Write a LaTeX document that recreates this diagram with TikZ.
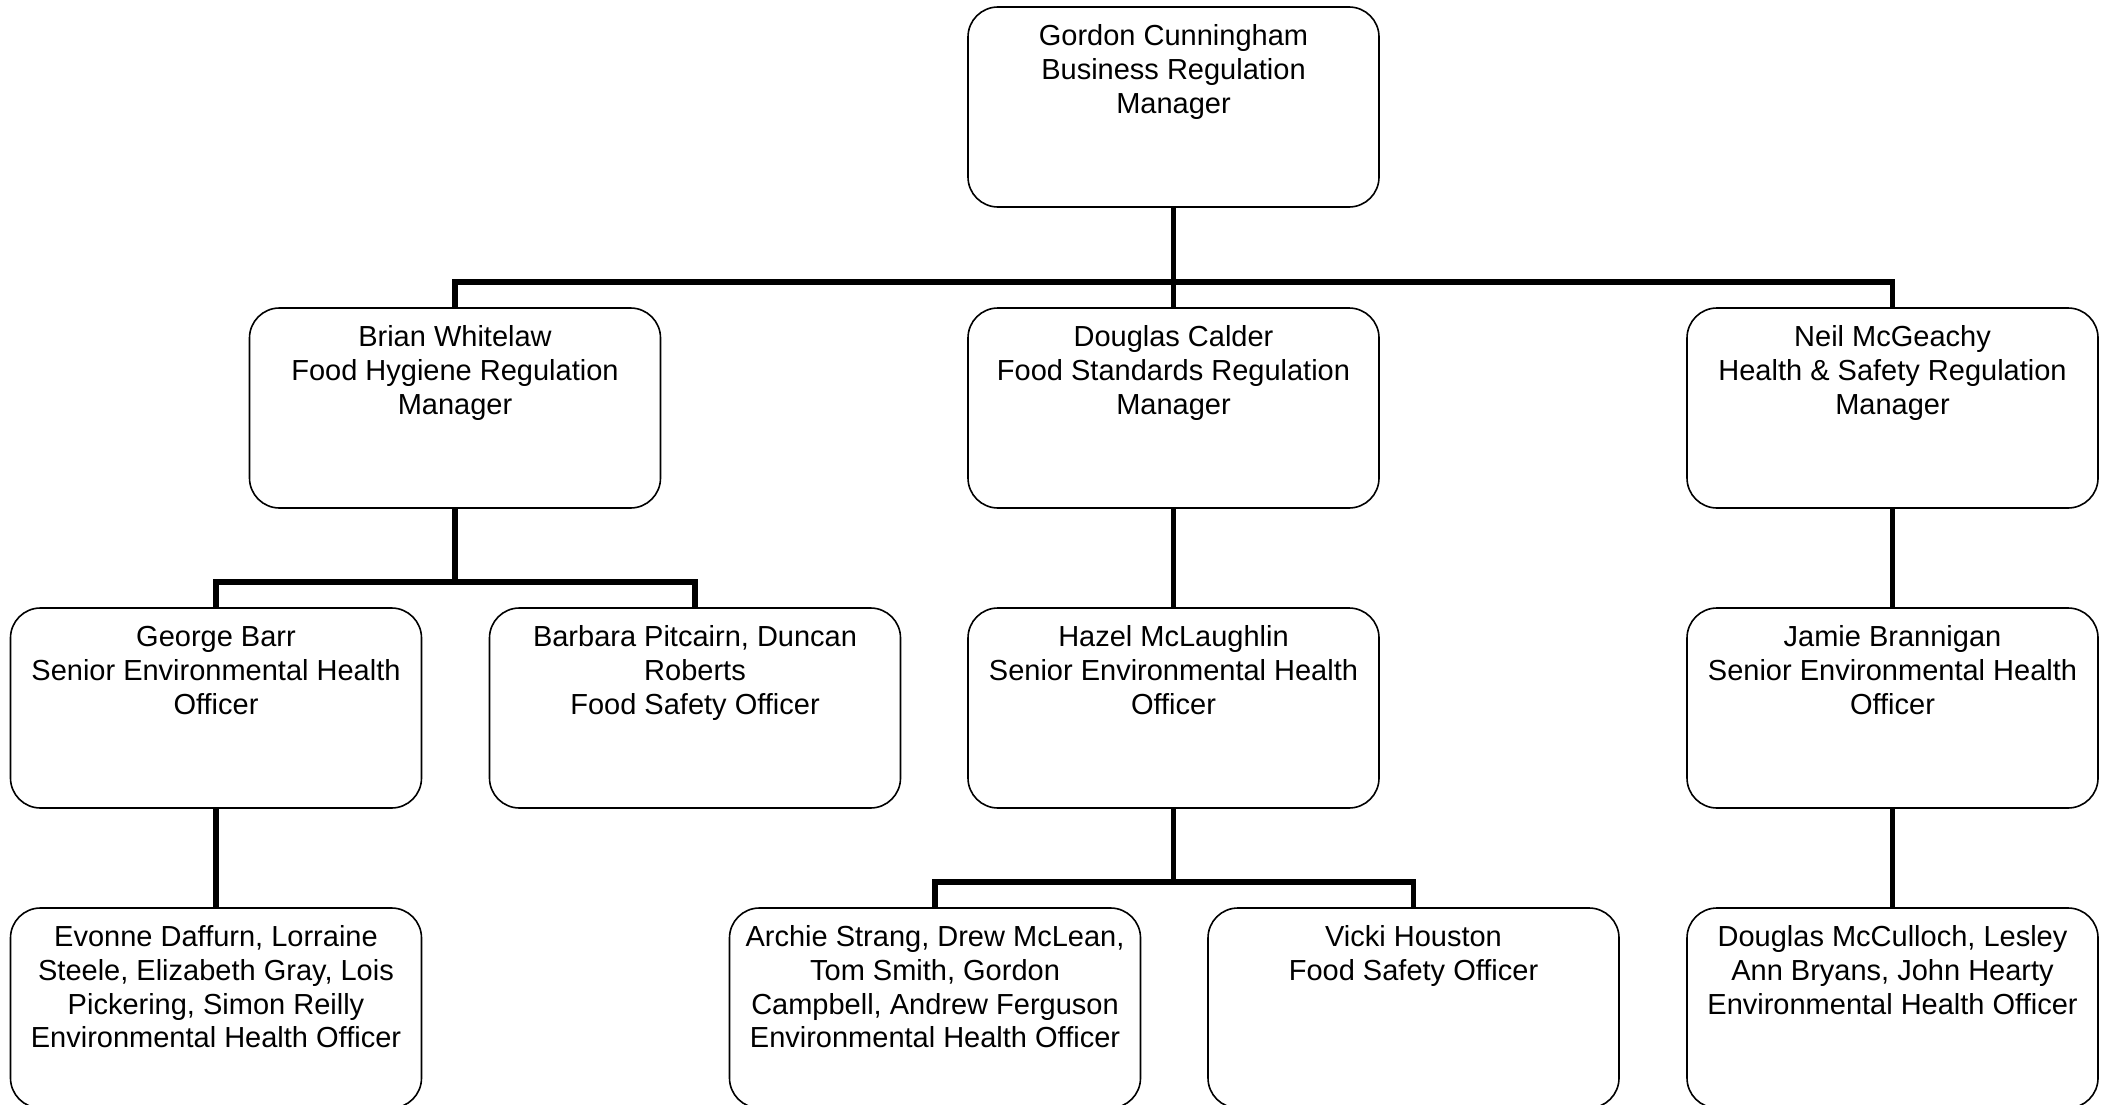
\documentclass[tikz,border=0pt]{standalone}
\usepackage{fontspec}
\setmainfont{Liberation Sans}
\tikzset{
  orgbox/.style={draw, line width=1.6pt, rounded corners=30pt, minimum width=411pt, minimum height=200pt, inner sep=0pt},
  orgtxt/.style={anchor=north, align=center, inner sep=0pt, font=\fontsize{29}{33.6}\selectfont},
  conn/.style={line width=5.5pt}
}
\newcommand{\orgnode}[3]{%
  \node[orgbox] (#1) at (#2) {};
  \node[orgtxt] (#1t) at ([yshift=-16pt]#1.north) {\strut #3};}
\begin{document}
\begin{tikzpicture}[x=1pt,y=-1pt]
\useasboundingbox (0,0) rectangle (2109,1105);
\clip (0,0) rectangle (2109,1105);
\orgnode{top}{1173.5,107}{Gordon Cunningham\\Business Regulation\\Manager}
\orgnode{brian}{455,408}{Brian Whitelaw\\Food Hygiene Regulation\\Manager}
\orgnode{calder}{1173.5,408}{Douglas Calder\\Food Standards Regulation\\Manager}
\orgnode{neil}{1892.5,408}{Neil McGeachy\\Health \& Safety Regulation\\Manager}
\orgnode{george}{216,708}{George Barr\\Senior Environmental Health\\Officer}
\orgnode{barbara}{695,708}{Barbara Pitcairn, Duncan\\Roberts\\Food Safety Officer}
\orgnode{hazel}{1173.5,708}{Hazel McLaughlin\\Senior Environmental Health\\Officer}
\orgnode{jamie}{1892.5,708}{Jamie Brannigan\\Senior Environmental Health\\Officer}
\orgnode{evonne}{216,1008}{Evonne Daffurn, Lorraine\\Steele, Elizabeth Gray, Lois\\Pickering, Simon Reilly\\Environmental Health Officer}
\orgnode{archie}{935,1008}{Archie Strang, Drew McLean,\\Tom Smith, Gordon\\Campbell, Andrew Ferguson\\Environmental Health Officer}
\orgnode{vicki}{1413.5,1008}{Vicki Houston\\Food Safety Officer}
\orgnode{douglas}{1892.5,1008}{Douglas McCulloch, Lesley\\Ann Bryans, John Hearty\\Environmental Health Officer}
% connectors
\path (top.south) ++(0,74) coordinate (bus1);
\draw[conn] (top.south) -- (bus1) -- (calder.north);
\draw[conn] (brian.north) |- (bus1) -| (neil.north);
\path (brian.south) ++(0,73) coordinate (bus2);
\draw[conn] (brian.south) -- (bus2);
\draw[conn] (george.north) |- (bus2) -| (barbara.north);
\draw[conn] (calder.south) -- (hazel.north);
\draw[conn] (neil.south) -- (jamie.north);
\draw[conn] (george.south) -- (evonne.north);
\draw[conn] (jamie.south) -- (douglas.north);
\path (hazel.south) ++(0,73) coordinate (bus3);
\draw[conn] (hazel.south) -- (bus3);
\draw[conn] (archie.north) |- (bus3) -| (vicki.north);
\end{tikzpicture}
\end{document}
